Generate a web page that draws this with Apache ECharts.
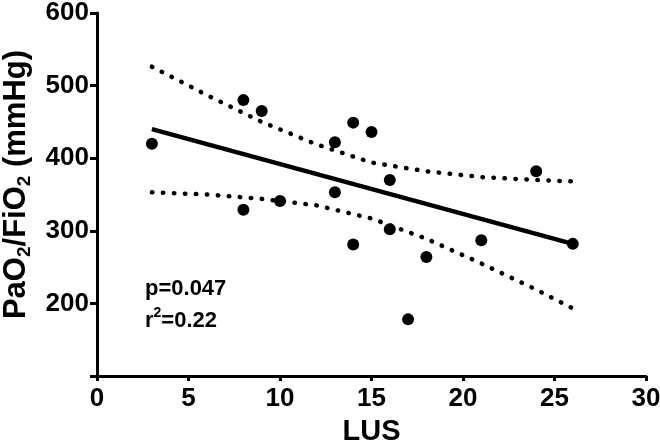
<!DOCTYPE html>
<html><head><meta charset="utf-8">
<script src="https://cdn.jsdelivr.net/npm/echarts@6/dist/echarts.min.js"></script>
<style>html,body{margin:0;padding:0;background:#fff}#c{width:660px;height:446px}</style>
</head><body><div id="c"></div>
<script>
// Observed data points (LUS, PaO2/FiO2)
const lus   = [3, 8, 9, 8, 10, 13, 14, 15, 16, 13, 16, 14, 18, 21, 24, 26, 17];
const ratio = [420, 480, 465, 329, 341, 422, 449, 436, 370, 353, 302, 281, 264, 287, 382, 282, 178];
// Regression line endpoints
const fitX = [3, 26];
const fitY = [440, 282];
// 95% confidence bands
const bandX  = [3, 6, 9, 12, 15, 18, 21, 24, 26];
const upperY = [526, 487, 450, 419, 394, 382, 374, 370, 368];
const lowerY = [353, 350, 344, 335, 317, 289, 255, 219, 193];
// Axis ticks
const xTicks = [0, 5, 10, 15, 20, 25, 30];
const yTicks = [100, 200, 300, 400, 500, 600];

const zip = (a, b) => a.map((v, i) => [v, b[i]]);
const FONT = '"Liberation Sans", Arial, sans-serif';
const chart = echarts.init(document.getElementById('c'), null, {renderer: 'canvas'});
const dotted = {color: '#000', width: 4.5, type: [0.5, 10.5], cap: 'round'};
chart.setOption({
  animation: false,
  backgroundColor: '#fff',
  grid: {left: 97, right: 14, top: 13, bottom: 70, containLabel: false, outerBoundsMode: 'none'},
  xAxis: {
    type: 'value', min: xTicks[0], max: xTicks[xTicks.length - 1], interval: 5,
    name: 'LUS', nameLocation: 'middle', nameGap: 41,
    nameTextStyle: {fontFamily: FONT, fontWeight: 'bold', fontSize: 29, color: '#000'},
    axisLine: {lineStyle: {color: '#000', width: 3}},
    axisTick: {show: true, length: 5, lineStyle: {color: '#000', width: 3}},
    axisLabel: {fontFamily: FONT, fontWeight: 'bold', fontSize: 26, color: '#000', margin: 10},
    splitLine: {show: false}
  },
  yAxis: {
    type: 'value', min: yTicks[0], max: yTicks[yTicks.length - 1], interval: 100,
    name: '{b|PaO}{s|2}{b|/FiO}{s|2}{b| (mmHg)}', nameLocation: 'middle', nameGap: 62,
    nameTextStyle: {
      color: '#000', padding: [0, 0, 0, 20],
      rich: {
        b: {fontFamily: FONT, fontWeight: 'bold', fontSize: 31, color: '#000', lineHeight: 36},
        s: {fontFamily: FONT, fontWeight: 'bold', fontSize: 19, color: '#000', lineHeight: 36, verticalAlign: 'bottom', padding: [10, 0, 0, 0]}
      }
    },
    axisLine: {show: true, lineStyle: {color: '#000', width: 3}},
    axisTick: {show: true, length: 7, lineStyle: {color: '#000', width: 3}},
    axisLabel: {fontFamily: FONT, fontWeight: 'bold', fontSize: 26, color: '#000', margin: 8,
      formatter: v => (v === yTicks[0] ? '' : String(v))},
    splitLine: {show: false}
  },
  series: [
    {type: 'line', data: zip(bandX, upperY), showSymbol: false, lineStyle: dotted, z: 2},
    {type: 'line', data: zip(bandX, lowerY), showSymbol: false, lineStyle: dotted, z: 2},
    {type: 'line', data: zip(fitX, fitY), showSymbol: false, lineStyle: {color: '#000', width: 4.5}, z: 3},
    {type: 'scatter', data: zip(lus, ratio), symbol: 'circle', symbolSize: 12, itemStyle: {color: '#000', opacity: 1}, z: 4}
  ],
  graphic: [
    {type: 'text', left: 145, top: 278, style: {
      text: 'p=0.047', fontFamily: FONT, fontWeight: 'bold', fontSize: 22, fill: '#000'}},
    {type: 'text', left: 145, top: 306, style: {
      text: '{b|r}{p|2}{b|=0.22}',
      rich: {
        b: {fontFamily: FONT, fontWeight: 'bold', fontSize: 22, fill: '#000', color: '#000', lineHeight: 30},
        p: {fontFamily: FONT, fontWeight: 'bold', fontSize: 14, fill: '#000', color: '#000', lineHeight: 30, verticalAlign: 'top', padding: [0, 0, 6, 0]}
      }}}
  ]
});
</script></body></html>
